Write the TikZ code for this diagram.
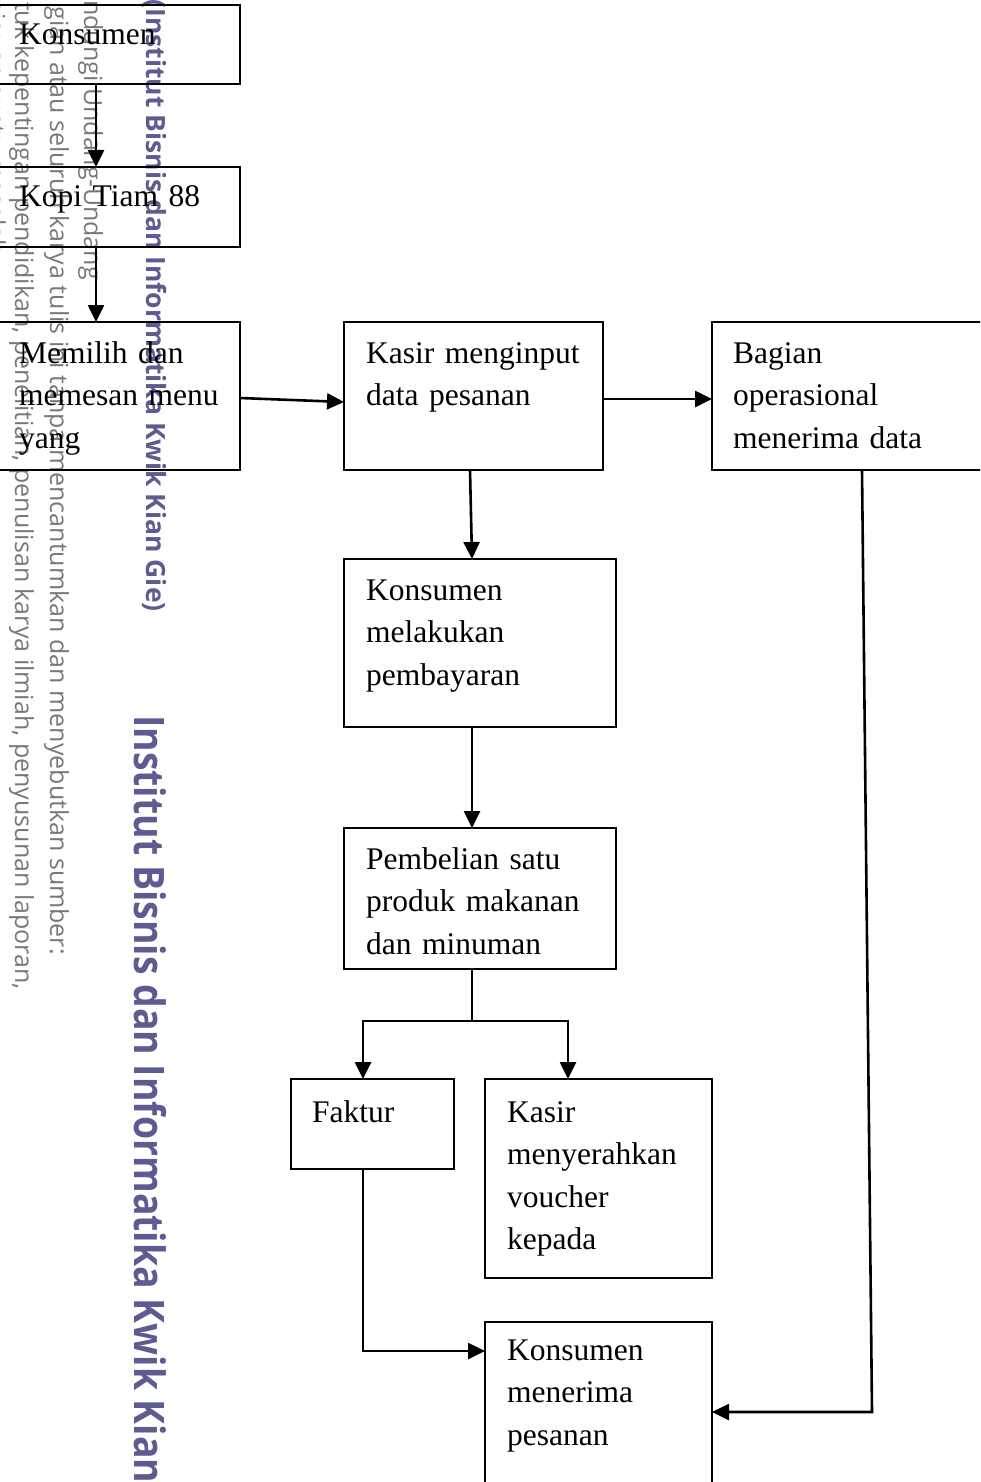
\documentclass[tikz,border=0pt]{standalone}
\usepackage{fontspec}
\setmainfont{Liberation Serif}
\newfontfamily\wmgrayfont{Open Sans}
\newfontfamily\wmbluefont{Open Sans}
\newfontfamily\wmbluecond[FakeStretch=0.89]{Open Sans}
\usetikzlibrary{arrows.meta,calc}
\definecolor{wmblue}{RGB}{92,92,145}
\definecolor{wmgray}{RGB}{120,120,120}
\begin{document}
\begin{tikzpicture}[x=1pt,y=-1pt,
  box/.style={draw=black, line width=2.2pt, anchor=north west, inner sep=0pt, outer sep=0pt},
  txt/.style={anchor=base west, inner sep=0pt, text width=300pt, align=left,
              font=\fontsize{31.5}{42.5}\selectfont},
  ln/.style={line width=2.6pt},
  arr/.style={line width=2.6pt, -{Triangle[length=17pt,width=16pt]}},
  wmg/.style={rotate=-90, inner sep=0pt, anchor=base east, text=wmgray,
              font=\wmgrayfont\fontsize{25}{25}\selectfont},
  wmb/.style={rotate=-90, inner sep=0pt, text=wmblue}
]
\useasboundingbox (0,0) rectangle (980,1482);
\clip (0,0) rectangle (980,1482);

% watermark
\node[wmg] (w1) at (84,280) {ndungi Undang-Undang};
\node[wmg] (w2) at (50,955) {gian atau seluruh karya tulis ini tanpa mencantumkan dan menyebutkan sumber:};
\node[wmg] (w3) at (15,990) {tuk kepentingan pendidikan, penelitian, penulisan karya ilmiah, penyusunan laporan,};
\node[wmg] (w4) at (-13,262) {tinjauan suatu masalah.};
\node[wmb, anchor=base east, font=\wmbluefont\bfseries\fontsize{26.5}{26.5}\selectfont] (w5) at (146,612)
  {(Institut Bisnis dan Informatika Kwik Kian Gie)};
\node[wmb, anchor=base west, font=\wmbluecond\bfseries\fontsize{42}{42}\selectfont] (w6) at (134,715)
  {Institut Bisnis dan Informatika Kwik Kian};

% boxes
\node[box, minimum width=243pt, minimum height=79pt]  (konsumen) at (-3,5) {};
\node[box, minimum width=243pt, minimum height=80pt]  (kopi)     at (-3,167) {};
\node[box, minimum width=243pt, minimum height=148pt] (memilih)  at (-3,322) {};
\node[box, minimum width=259pt, minimum height=148pt] (kasir)    at (344,322) {};
\node[box, minimum width=280pt, minimum height=148pt] (bagian)   at (712,322) {};
\node[box, minimum width=272pt, minimum height=168pt] (bayar)    at (344,559) {};
\node[box, minimum width=272pt, minimum height=141pt] (beli)     at (344,828) {};
\node[box, minimum width=163pt, minimum height=90pt]  (faktur)   at (291,1079) {};
\node[box, minimum width=227pt, minimum height=199pt] (voucher)  at (485,1079) {};
\node[box, minimum width=227pt, minimum height=180pt] (terima)   at (485,1322) {};

% texts
\node[txt] (tkonsumen) at ($(konsumen.north west)+(22,40)$) {Konsumen};
\node[txt] (tkopi)     at ($(kopi.north west)+(22,40)$) {Kopi Tiam 88};
\node[txt] (tmemilih)  at ($(memilih.north west)+(22,41)$) {Memilih dan\\memesan menu\\yang};
\node[txt] (tkasir)    at ($(kasir.north west)+(22,41)$) {Kasir menginput\\data pesanan};
\node[txt] (tbagian)   at ($(bagian.north west)+(21,41)$) {Bagian\\operasional\\menerima data};
\node[txt] (tbayar)    at ($(bayar.north west)+(22,41)$) {Konsumen\\melakukan\\pembayaran};
\node[txt] (tbeli)     at ($(beli.north west)+(22,41)$) {Pembelian satu\\produk makanan\\dan minuman};
\node[txt] (tfaktur)   at ($(faktur.north west)+(21,43)$) {Faktur};
\node[txt] (tvoucher)  at ($(voucher.north west)+(22,43)$) {Kasir\\menyerahkan\\voucher\\kepada};
\node[txt] (tterima)   at ($(terima.north west)+(22,38)$) {Konsumen\\menerima\\pesanan};

% helper coordinates
\coordinate (xa) at (96,0);
\coordinate (jn) at ($(beli.south west)+(128,52)$);
\coordinate (fx) at ($(faktur.north west)+(72,0)$);
\coordinate (vx) at ($(voucher.north west)+(83,0)$);
\coordinate (tm) at ($(terima.north west)+(0,29)$);

% connectors
\draw[arr] (konsumen.south -| xa) -- (kopi.north -| xa);
\draw[arr] (kopi.south -| xa) -- (memilih.north -| xa);
\draw[arr] ($(memilih.north east)+(0,76)$) -- ($(kasir.north west)+(0,80)$);
\draw[arr] ($(kasir.north east)+(0,77)$) -- ($(bagian.north west)+(0,77)$);
\draw[arr] ($(kasir.south west)+(126,0)$) -- ($(bayar.north west)+(128,0)$);
\draw[arr] ($(bayar.south west)+(128,0)$) -- ($(beli.north west)+(128,0)$);
\draw[ln] ($(beli.south west)+(128,0)$) -- (jn);
\draw[arr] (jn) -- (jn -| fx) -- (fx);
\draw[arr] (jn) -- (jn -| vx) -- (vx);
\draw[arr] (faktur.south -| fx) -- (fx |- tm) -- (tm);
\draw[arr] ($(bagian.south west)+(150,0)$) -- ($(terima.north east)+(160,90)$) -- ($(terima.north east)+(0,90)$);
\end{tikzpicture}
\end{document}
